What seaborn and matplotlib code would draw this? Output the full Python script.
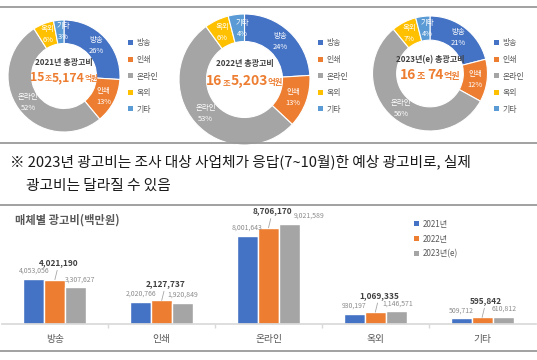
import re
import matplotlib
matplotlib.use('Agg')
import matplotlib.pyplot as plt
import pandas as pd
import seaborn as sns
from matplotlib.patches import Patch
from matplotlib.lines import Line2D
from matplotlib.offsetbox import TextArea, HPacker, AnnotationBbox

# 데이터
media = ['방송', '인쇄', '온라인', '옥외', '기타']
media_colors = ['#4472C4', '#ED7D31', '#A5A5A5', '#FFC000', '#5B9BD5']

share_2021 = [26, 13, 52, 6, 3]
share_2022 = [24, 13, 53, 6, 4]
share_2023 = [21, 12, 56, 7, 4]

donut_titles = ['2021년 총광고비', '2022년 총광고비', '2023년(e) 총광고비']
donut_totals = ['15조5,174억원', '16조5,203억원', '16조 74억원']

years = ['2021년', '2022년', '2023년(e)']
spend_2021 = [4053056, 2020766, 8001643, 930197, 509712]
spend_2022 = [4021190, 2127737, 8706170, 1069335, 595842]
spend_2023 = [3307627, 1920849, 9021589, 1146571, 610812]

note_line1 = '※ 2023년 광고비는 조사 대상 사업체가 응답(7~10월)한 예상 광고비로, 실제'
note_line2 = '광고비는 달라질 수 있음'
bar_title = '매체별 광고비(백만원)'

sns.set_theme(style='white')
plt.rcParams['font.family'] = ['Noto Sans CJK KR', 'DejaVu Sans']

W, H = 537, 360
fig = plt.figure(figsize=(W / 100, H / 100), dpi=100)
fig.patch.set_facecolor('white')


def px_axes(left, top, width, height):
    return fig.add_axes([left / W, 1 - (top + height) / H, width / W, height / H])


def hline(y):
    fig.add_artist(Line2D([0, 1], [1 - y / H, 1 - y / H], transform=fig.transFigure,
                          color='#9A9A9A', lw=1.3, zorder=10))


def draw_donut(cx, cy, r, shares, title, total, legend_x, fs_big, fs_small):
    ax = px_axes(cx - r, cy - r, 2 * r, 2 * r)
    wedges, _, autotexts = ax.pie(
        shares, colors=media_colors, startangle=90, counterclock=False,
        wedgeprops=dict(width=0.42, edgecolor='white', linewidth=0.8),
        autopct='%d', pctdistance=0.79,
    )
    for t, name, pct in zip(autotexts, media, shares):
        t.set_text(f'{name}\n{pct}%')
        t.set_color('white')
        t.set_fontsize(5.4)
        t.set_linespacing(1.5)
    # 작은 조각(기타) 라벨은 살짝 오른쪽으로
    tx, ty = autotexts[-1].get_position()
    autotexts[-1].set_position((tx + 0.06, ty))
    ax.set_xlim(-1, 1)
    ax.set_ylim(-1, 1)
    ax.set_aspect('equal')
    ax.text(0, 0.24, title, ha='center', va='center', fontsize=5.8,
            color='#404040', fontweight='bold')
    kids = []
    for part in re.findall(r'[\d,]+|[^\d,]+', total):
        size = fs_big if part[0].isdigit() else fs_small
        kids.append(TextArea(part, textprops=dict(color='#ED7D31', fontsize=size,
                                                  fontweight='bold')))
    box = HPacker(children=kids, align='baseline', pad=0, sep=0)
    ab = AnnotationBbox(box, (0, -0.03), xycoords='data', frameon=False,
                        box_alignment=(0.5, 0.5), pad=0)
    ax.add_artist(ab)
    handles = [Patch(facecolor=c, edgecolor='none') for c in media_colors]
    fig.legend(handles, media, loc='upper left',
               bbox_to_anchor=(legend_x / W, 1 - 38.5 / H), frameon=False,
               fontsize=5.7, labelcolor='#595959', handlelength=0.6, handleheight=0.6,
               handletextpad=0.5, labelspacing=0.95, borderpad=0, borderaxespad=0)


draw_donut(64, 76, 56, share_2021, donut_titles[0], donut_totals[0], 128, 8.8, 5.5)
draw_donut(244.5, 79.5, 65.5, share_2022, donut_titles[1], donut_totals[1], 318, 10, 6)
draw_donut(430, 73.5, 57.5, share_2023, donut_titles[2], donut_totals[2], 494, 10, 6.5)

hline(7)
hline(143)
hline(205)
hline(351)

fig.text(10 / W, 1 - 162 / H, note_line1, fontsize=10.6, va='center', color='#1A1A1A')
fig.text(26 / W, 1 - 186 / H, note_line2, fontsize=10.6, va='center', color='#1A1A1A')

# 막대 그래프
df = pd.DataFrame({
    '매체': media * 3,
    '연도': [years[0]] * 5 + [years[1]] * 5 + [years[2]] * 5,
    '광고비': spend_2021 + spend_2022 + spend_2023,
})

ax = px_axes(1.5, 210, 534, 114)
sns.barplot(data=df, x='매체', y='광고비', hue='연도', palette=media_colors[:3],
            width=0.59, gap=0, legend=False, ax=ax, saturation=1)
ax.set_ylim(0, 114 / 11.05 * 1e6)
ax.set_xlim(-0.5, 4.5)
ax.set_xlabel('')
ax.set_ylabel('')
ax.set_yticks([])
for s in ['left', 'top', 'right']:
    ax.spines[s].set_visible(False)
ax.spines['bottom'].set_color('#D9D9D9')
ax.patch.set_alpha(0)
ax.tick_params(axis='x', length=0, pad=7, labelsize=7, labelcolor='#595959')
ax.set_xticks([0.5, 1.5, 2.5, 3.5], minor=True)
ax.tick_params(axis='x', which='minor', length=3, color='#D9D9D9', bottom=True)

nudge_2023 = [3, 0, 14, 1, 1]
for i, cont in enumerate(ax.containers):
    for j, bar in enumerate(cont):
        x = bar.get_x() + bar.get_width() / 2
        top = bar.get_height()
        label = f'{int(top):,}'
        if i == 1:
            ax.annotate(label, (x, top), xytext=(3, 9), textcoords='offset points',
                        ha='center', va='bottom', fontsize=6, fontweight='bold',
                        color='#404040',
                        arrowprops=dict(arrowstyle='-', color='#A6A6A6', lw=0.6,
                                        shrinkA=0, shrinkB=0))
        elif i == 0:
            ax.annotate(label, (x, top), xytext=(0, 3), textcoords='offset points',
                        ha='center', va='bottom', fontsize=5, color='#8C8C8C')
        else:
            ax.annotate(label, (x, top), xytext=(nudge_2023[j], 3), textcoords='offset points',
                        ha='center', va='bottom', fontsize=5, color='#8C8C8C')

fig.text(15 / W, 1 - 220 / H, bar_title, fontsize=8.1, fontweight='bold',
         va='center', color='#595959')

bar_handles = [Patch(facecolor=c, edgecolor='none') for c in media_colors[:3]]
fig.legend(bar_handles, years, loc='upper left', bbox_to_anchor=(414 / W, 1 - 219.5 / H),
           frameon=False, fontsize=5.8, labelcolor='#595959', handlelength=0.6,
           handleheight=0.6, handletextpad=0.5, labelspacing=0.75, borderpad=0,
           borderaxespad=0)

fig.savefig('out.png', dpi=100, facecolor='white')
